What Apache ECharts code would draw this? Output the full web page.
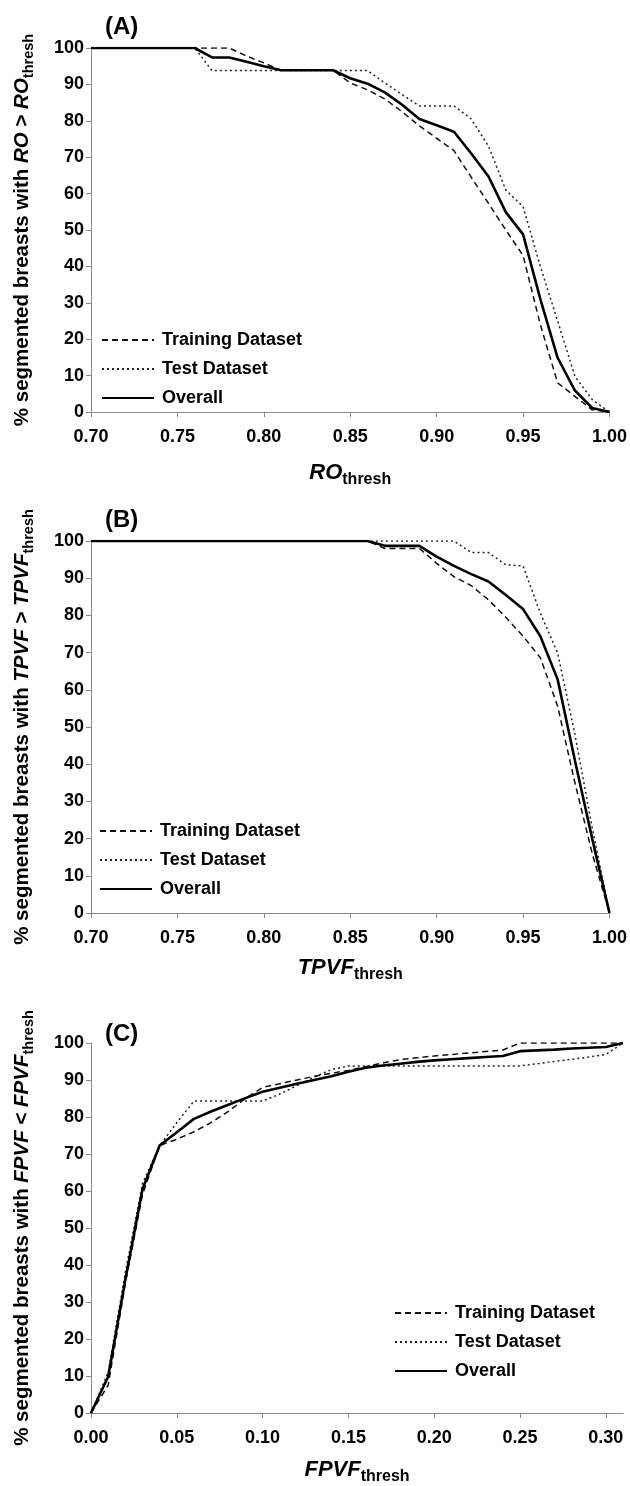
<!DOCTYPE html>
<html>
<head>
<meta charset="utf-8">
<script src="https://cdn.jsdelivr.net/npm/echarts@6/dist/echarts.min.js"></script>
<style>
html,body{margin:0;padding:0;background:#fff;}
#chart{width:630px;height:1486px;}
</style>
</head>
<body>
<div id="chart"></div>
<script>
// ---------- DATA ----------
const seriesNames = ['Training Dataset', 'Test Dataset', 'Overall'];

// Panel A: RO threshold
const xA = [0.70,0.71,0.72,0.73,0.74,0.75,0.76,0.77,0.78,0.79,0.80,0.81,0.82,0.83,0.84,0.85,0.86,0.87,0.88,0.89,0.90,0.91,0.92,0.93,0.94,0.95,0.96,0.97,0.98,0.99,1.00];
const trainA = [100,100,100,100,100,100,100,100,100,97.8,95.9,93.9,93.9,93.9,93.9,90.4,88.5,86,82.5,78.6,75.2,71.8,64.5,57.3,50,43,24,8,4.3,0.6,0];
const testA = [100,100,100,100,100,100,100,93.8,93.8,93.8,93.8,93.8,93.8,93.8,93.8,93.8,93.8,90.4,87.2,84.1,84.1,84.1,80.5,73,61,56.4,40,25,9.8,3.4,0];
const overallA = [100,100,100,100,100,100,100,97.4,97.4,96.2,95,93.9,93.9,93.9,93.9,91.7,90.2,87.8,84.4,80.5,78.8,77,71,64.7,54.9,48.8,31,14.9,5.9,1.1,0];

// Panel B: TPVF threshold
const xB = [0.70,0.71,0.72,0.73,0.74,0.75,0.76,0.77,0.78,0.79,0.80,0.81,0.82,0.83,0.84,0.85,0.86,0.87,0.88,0.89,0.90,0.91,0.92,0.93,0.94,0.95,0.96,0.97,0.98,0.99,1.00];
const trainB = [100,100,100,100,100,100,100,100,100,100,100,100,100,100,100,100,100,98,98,98,94,90.4,88,84.2,79.5,74.4,68.6,55.6,35,16,0];
const testB = [100,100,100,100,100,100,100,100,100,100,100,100,100,100,100,100,100,100,100,100,100,100,96.9,96.9,93.6,93.3,80.6,69.9,48,23,0];
const overallB = [100,100,100,100,100,100,100,100,100,100,100,100,100,100,100,100,100,98.7,98.7,98.7,95.8,93.3,91.1,89.1,85.5,81.7,74.4,62.8,41,20,0];

// Panel C: FPVF threshold
const xC = [0.00,0.01,0.02,0.03,0.04,0.05,0.06,0.07,0.08,0.09,0.10,0.11,0.12,0.13,0.14,0.15,0.16,0.17,0.18,0.19,0.20,0.21,0.22,0.23,0.24,0.25,0.26,0.27,0.28,0.29,0.30,0.31];
const trainC = [0,7.5,35,59,72.3,74,76,78.5,81.5,85,88,89,90,91,91.8,92.6,93.6,94.6,95.5,96,96.5,96.9,97.3,97.7,98.1,100,100,100,100,100,100,100];
const testC = [0,11,38,62,72.3,78.5,84.3,84.3,84.3,84.3,84.3,86.2,88.5,90.8,92.8,93.8,93.8,93.8,93.8,93.8,93.8,93.8,93.8,93.8,93.8,93.8,94.4,95,95.6,96.2,96.9,100];
const overallC = [0,9.8,36,60.5,72.3,75.9,79.5,81.5,83.3,85.1,86.8,87.9,89,90,91,92.2,93.3,93.9,94.4,94.9,95.3,95.6,95.9,96.2,96.5,97.8,98,98.2,98.5,98.7,98.9,100];

const yTicks = {min: 0, max: 100, interval: 10};
const xRangeAB = {min: 0.70, max: 1.00, interval: 0.05};
const xRangeC = {min: 0.00, max: 0.31, interval: 0.05};

// ---------- STYLE ----------
const FONT = "'Liberation Sans', Arial, Helvetica, sans-serif";
const AXIS_GREY = '#8a8a8a';

const chart = echarts.init(document.getElementById('chart'), null, {renderer: 'canvas'});

const grids = [
  {left: 90, top: 48, width: 521, height: 364},
  {left: 88, top: 541, width: 522, height: 372},
  {left: 85, top: 1043, width: 538, height: 379}
];

function yName(v) {
  return '% segmented breasts with {i|' + v + '} ' + (v === 'FPVF' ? '<' : '>') + ' {i|' + v + '}{s|thresh}';
}

function makeY(idx, varName) {
  return {
    type: 'value', gridIndex: idx,
    min: yTicks.min, max: yTicks.max, interval: yTicks.interval,
    splitLine: {show: false},
    axisLine: {show: true, lineStyle: {color: AXIS_GREY, width: 1}},
    axisTick: {show: true, length: 5, lineStyle: {color: AXIS_GREY}},
    axisLabel: {fontFamily: FONT, fontSize: 18, fontWeight: 'bold', color: '#000', margin: 7},
    name: yName(varName), nameLocation: 'middle', nameRotate: 90, nameGap: 55,
    nameTextStyle: {
      fontFamily: FONT, fontSize: 20.5, fontWeight: 'bold', color: '#000', lineHeight: 28,
      rich: {
        i: {fontFamily: FONT, fontSize: 20.5, fontWeight: 'bold', fontStyle: 'italic', color: '#000', lineHeight: 28},
        s: {fontFamily: FONT, fontSize: 14.5, fontWeight: 'bold', color: '#000', lineHeight: 14, verticalAlign: 'bottom'}
      }
    }
  };
}

const xNameGaps = [46, 40, 42];

function makeX(idx, rng, varName) {
  return {
    type: 'value', gridIndex: idx,
    min: rng.min, max: rng.max, interval: rng.interval,
    splitLine: {show: false},
    axisLine: {show: true, onZero: false, lineStyle: {color: AXIS_GREY, width: 1}},
    axisTick: {show: true, length: 5, lineStyle: {color: AXIS_GREY}},
    axisLabel: {
      fontFamily: FONT, fontSize: 18, fontWeight: 'bold', color: '#000', margin: 16,
      showMaxLabel: idx !== 2,
      formatter: function (v) { return v.toFixed(2); }
    },
    name: '{i|' + varName + '}{s|thresh}', nameLocation: 'middle', nameGap: xNameGaps[idx],
    nameTextStyle: {
      rich: {
        i: {fontFamily: FONT, fontSize: 22, fontWeight: 'bold', fontStyle: 'italic', color: '#000', lineHeight: 30},
        s: {fontFamily: FONT, fontSize: 16, fontWeight: 'bold', color: '#000', lineHeight: 16, verticalAlign: 'bottom'}
      }
    }
  };
}

const lineStyles = {
  'Training Dataset': {color: '#111', width: 1.5, type: [6, 4]},
  'Test Dataset': {color: '#222', width: 1.5, type: [2, 3]},
  'Overall': {color: '#000', width: 2.6, type: 'solid'}
};

function pairs(xs, ys) { return xs.map(function (x, i) { return [x, ys[i]]; }); }

function makeSeries(idx, xs, tr, te, ov) {
  const sets = [tr, te, ov];
  return seriesNames.map(function (n, k) {
    return {
      name: n, type: 'line', xAxisIndex: idx, yAxisIndex: idx,
      data: pairs(xs, sets[k]), symbol: 'none', showSymbol: false,
      lineStyle: lineStyles[n], itemStyle: {color: lineStyles[n].color},
      z: k === 2 ? 3 : 2, animation: false, silent: true
    };
  });
}

function makeLegend(left, top) {
  return {
    orient: 'vertical', left: left, top: top,
    data: seriesNames, selectedMode: false,
    itemWidth: 52, itemHeight: 14, itemGap: 11,
    itemStyle: {opacity: 0},
    textStyle: {fontFamily: FONT, fontSize: 18, fontWeight: 'bold', color: '#000', lineHeight: 18, padding: [0, 0, 0, 3]}
  };
}

function makeTitle(text, left, top) {
  return {text: text, left: left, top: top,
    textStyle: {fontFamily: FONT, fontSize: 24, fontWeight: 'bold', color: '#000'}};
}

const option = {
  backgroundColor: '#fff',
  animation: false,
  title: [makeTitle('(A)', 100, 10), makeTitle('(B)', 100, 503), makeTitle('(C)', 100, 1017)],
  legend: [makeLegend(96, 326), makeLegend(94, 817), makeLegend(389, 1299)],
  grid: grids,
  xAxis: [makeX(0, xRangeAB, 'RO'), makeX(1, xRangeAB, 'TPVF'), makeX(2, xRangeC, 'FPVF')],
  yAxis: [makeY(0, 'RO'), makeY(1, 'TPVF'), makeY(2, 'FPVF')],
  series: [].concat(
    makeSeries(0, xA, trainA, testA, overallA),
    makeSeries(1, xB, trainB, testB, overallB),
    makeSeries(2, xC, trainC, testC, overallC)
  )
};

chart.setOption(option);
</script>
</body>
</html>
